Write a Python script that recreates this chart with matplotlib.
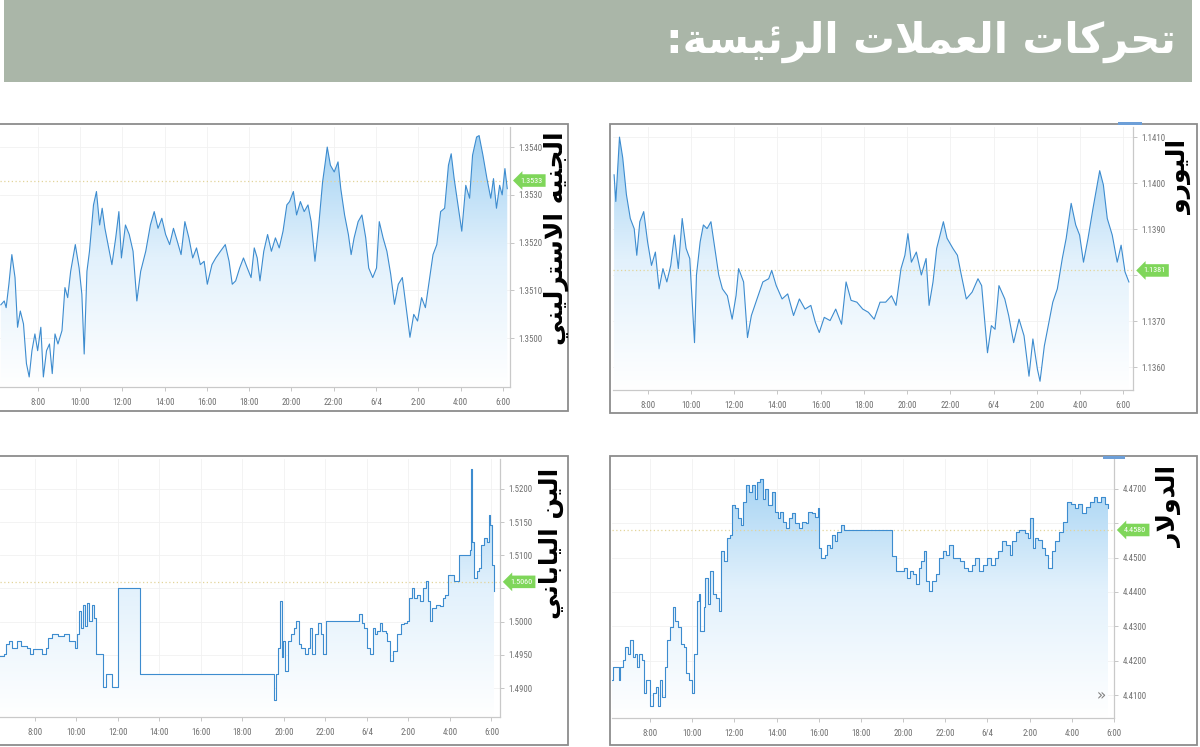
import os
import numpy as np
import matplotlib
matplotlib.use('Agg')
import matplotlib.pyplot as plt
from matplotlib.colors import LinearSegmentedColormap
from matplotlib.patches import Rectangle
from matplotlib import font_manager as fm

# ---------------- data (hours from 0:00 of 3/6, 24 = 6/4) ----------------
title = 'تحركات العملات الرئيسة:'
eur_label = 'اليورو'
gbp_label = 'الجنيه الاسترليني'
usd_label = 'الدولار'
jpy_label = 'الين الياباني'

x_ticks = [8, 10, 12, 14, 16, 18, 20, 22, 24, 26, 28, 30]
x_ticklabels = ['8:00', '10:00', '12:00', '14:00', '16:00', '18:00', '20:00', '22:00',
                '6/4', '2:00', '4:00', '6:00']

eur_hour = [
    6.45, 6.53, 6.70, 6.85, 7.02, 7.20, 7.38, 7.50, 7.64, 7.82,
    8.00, 8.18, 8.36, 8.53, 8.71, 8.89, 9.07, 9.24, 9.42, 9.60,
    9.78, 9.95, 10.17, 10.26, 10.43, 10.58, 10.75, 10.93, 11.11, 11.29,
    11.46, 11.69, 11.91, 12.09, 12.21, 12.44, 12.62, 12.80, 13.06, 13.33,
    13.60, 13.74, 13.95, 14.22, 14.48, 14.75, 15.02, 15.28, 15.55, 15.76,
    15.94, 16.17, 16.44, 16.70, 16.97, 17.18, 17.41, 17.68, 17.95, 18.21,
    18.48, 18.75, 19.01, 19.28, 19.49, 19.72, 19.90, 20.04, 20.20, 20.43,
    20.66, 20.88, 21.02, 21.20, 21.37, 21.68, 21.85, 22.12, 22.33, 22.51,
    22.74, 23.01, 23.28, 23.45, 23.72, 23.90, 24.07, 24.25, 24.52, 24.70,
    24.93, 25.18, 25.41, 25.64, 25.82, 26.03, 26.15, 26.35, 26.56, 26.74,
    26.95, 27.18, 27.36, 27.59, 27.80, 27.98, 28.16, 28.37, 28.60, 28.91,
    29.08, 29.26, 29.49, 29.72, 29.90, 30.08, 30.26]
eur_rate = [
    1.14018, 1.13960, 1.14100, 1.14055, 1.13975, 1.13923, 1.13901, 1.13843, 1.13916, 1.13938,
    1.13872, 1.13821, 1.13850, 1.13770, 1.13814, 1.13785, 1.13821, 1.13887, 1.13814, 1.13923,
    1.13858, 1.13836, 1.13653, 1.13800, 1.13872, 1.13909, 1.13901, 1.13916, 1.13858, 1.13800,
    1.13770, 1.13755, 1.13704, 1.13755, 1.13814, 1.13785, 1.13664, 1.13712, 1.13748, 1.13785,
    1.13792, 1.13810, 1.13777, 1.13748, 1.13759, 1.13712, 1.13748, 1.13726, 1.13734, 1.13697,
    1.13675, 1.13708, 1.13701, 1.13726, 1.13693, 1.13785, 1.13745, 1.13741, 1.13726, 1.13719,
    1.13704, 1.13741, 1.13741, 1.13755, 1.13734, 1.13814, 1.13843, 1.13890, 1.13828, 1.13850,
    1.13800, 1.13836, 1.13734, 1.13785, 1.13858, 1.13916, 1.13880, 1.13858, 1.13843, 1.13800,
    1.13748, 1.13763, 1.13792, 1.13777, 1.13631, 1.13690, 1.13682, 1.13777, 1.13748, 1.13712,
    1.13653, 1.13704, 1.13668, 1.13580, 1.13661, 1.13595, 1.13569, 1.13646, 1.13697, 1.13741,
    1.13770, 1.13836, 1.13880, 1.13956, 1.13909, 1.13887, 1.13828, 1.13880, 1.13945, 1.14027,
    1.13996, 1.13923, 1.13887, 1.13828, 1.13865, 1.13807, 1.13785]
eur_last = 1.1381
eur_yticks = [1.1360, 1.1370, 1.1380, 1.1390, 1.1400, 1.1410]

gbp_hour = [
    6.26, 6.42, 6.51, 6.64, 6.78, 6.93, 7.05, 7.18, 7.33, 7.47,
    7.60, 7.73, 7.87, 8.00, 8.15, 8.27, 8.42, 8.56, 8.69, 8.82,
    8.96, 9.15, 9.29, 9.42, 9.56, 9.78, 9.96, 10.09, 10.20, 10.33,
    10.45, 10.64, 10.78, 10.93, 11.05, 11.18, 11.33, 11.51, 11.69, 11.84,
    11.96, 12.15, 12.33, 12.51, 12.69, 12.87, 13.11, 13.33, 13.51, 13.69,
    13.87, 14.05, 14.24, 14.42, 14.60, 14.78, 14.96, 15.15, 15.33, 15.51,
    15.69, 15.87, 16.02, 16.24, 16.42, 16.64, 16.87, 17.05, 17.20, 17.36,
    17.55, 17.73, 17.91, 18.09, 18.24, 18.38, 18.51, 18.69, 18.87, 19.05,
    19.24, 19.42, 19.60, 19.78, 19.91, 20.09, 20.24, 20.42, 20.60, 20.78,
    20.93, 21.11, 21.29, 21.47, 21.60, 21.69, 21.84, 22.02, 22.20, 22.33,
    22.51, 22.69, 22.82, 22.96, 23.15, 23.33, 23.51, 23.65, 23.84, 24.02,
    24.15, 24.33, 24.51, 24.69, 24.87, 25.05, 25.24, 25.42, 25.60, 25.78,
    25.96, 26.15, 26.33, 26.51, 26.69, 26.87, 27.05, 27.24, 27.42, 27.55,
    27.69, 27.87, 28.05, 28.24, 28.42, 28.56, 28.75, 28.87, 29.05, 29.24,
    29.42, 29.55, 29.69, 29.84, 29.96, 30.09, 30.20]
gbp_rate = [
    1.35070, 1.35078, 1.35064, 1.35113, 1.35175, 1.35127, 1.35023, 1.35057, 1.35030, 1.34947,
    1.34919, 1.34974, 1.35009, 1.34974, 1.35023, 1.34919, 1.34974, 1.34988, 1.34926, 1.35009,
    1.34988, 1.35016, 1.35106, 1.35085, 1.35140, 1.35196, 1.35147, 1.35092, 1.34967, 1.35140,
    1.35182, 1.35279, 1.35307, 1.35237, 1.35272, 1.35230, 1.35196, 1.35154, 1.35210, 1.35265,
    1.35168, 1.35237, 1.35217, 1.35182, 1.35078, 1.35140, 1.35182, 1.35237, 1.35265, 1.35230,
    1.35251, 1.35217, 1.35196, 1.35230, 1.35203, 1.35175, 1.35244, 1.35210, 1.35168, 1.35189,
    1.35154, 1.35161, 1.35113, 1.35154, 1.35168, 1.35182, 1.35196, 1.35161, 1.35113, 1.35120,
    1.35147, 1.35168, 1.35147, 1.35127, 1.35189, 1.35168, 1.35120, 1.35182, 1.35217, 1.35182,
    1.35210, 1.35189, 1.35224, 1.35279, 1.35286, 1.35307, 1.35258, 1.35286, 1.35265, 1.35279,
    1.35244, 1.35161, 1.35237, 1.35327, 1.35369, 1.35400, 1.35362, 1.35348, 1.35369, 1.35313,
    1.35258, 1.35217, 1.35175, 1.35210, 1.35244, 1.35258, 1.35210, 1.35147, 1.35127, 1.35147,
    1.35244, 1.35210, 1.35182, 1.35134, 1.35071, 1.35113, 1.35127, 1.35064, 1.35002, 1.35050,
    1.35036, 1.35085, 1.35064, 1.35120, 1.35175, 1.35196, 1.35265, 1.35272, 1.35362, 1.35386,
    1.35334, 1.35279, 1.35224, 1.35320, 1.35293, 1.35383, 1.35421, 1.35424, 1.35383, 1.35334,
    1.35293, 1.35334, 1.35272, 1.35320, 1.35300, 1.35355, 1.35313]
gbp_last = 1.3533
gbp_yticks = [1.3500, 1.3510, 1.3520, 1.3530, 1.3540]

usd_hour = [
    6.19, 6.23, 6.47, 6.52, 6.59, 6.70, 6.83, 6.95, 7.06, 7.19,
    7.28, 7.37, 7.46, 7.60, 7.73, 7.82, 8.00, 8.14, 8.27, 8.36,
    8.45, 8.58, 8.69, 8.81, 8.94, 9.08, 9.17, 9.30, 9.44, 9.59,
    9.71, 9.84, 9.99, 10.09, 10.20, 10.31, 10.38, 10.53, 10.62, 10.74,
    10.85, 10.98, 11.10, 11.25, 11.36, 11.52, 11.65, 11.79, 11.88, 12.01,
    12.15, 12.30, 12.42, 12.55, 12.69, 12.84, 12.96, 13.09, 13.23, 13.34,
    13.45, 13.60, 13.78, 13.92, 14.05, 14.17, 14.32, 14.46, 14.59, 14.71,
    14.86, 15.04, 15.22, 15.40, 15.51, 15.67, 15.80, 15.94, 16.03, 16.12,
    16.27, 16.39, 16.52, 16.63, 16.75, 16.88, 17.03, 17.21, 19.37, 19.46,
    19.64, 19.91, 20.06, 20.18, 20.31, 20.45, 20.60, 20.73, 20.85, 21.00,
    21.10, 21.21, 21.36, 21.54, 21.72, 21.90, 22.04, 22.19, 22.35, 22.53,
    22.71, 22.89, 23.07, 23.25, 23.43, 23.61, 23.79, 23.97, 24.16, 24.34,
    24.52, 24.70, 24.88, 25.06, 25.18, 25.33, 25.51, 25.78, 25.91, 26.01,
    26.14, 26.27, 26.41, 26.59, 26.74, 26.86, 27.04, 27.22, 27.40, 27.58,
    27.77, 27.95, 28.13, 28.31, 28.49, 28.67, 28.85, 29.03, 29.21, 29.39,
    29.57, 29.71]
usd_rate = [
    4.41439, 4.41823, 4.41823, 4.41439, 4.41823, 4.42014, 4.42398, 4.42206, 4.42590, 4.42110,
    4.42206, 4.41823, 4.42206, 4.42014, 4.41055, 4.41439, 4.40672, 4.41055, 4.41247, 4.40672,
    4.41439, 4.40960, 4.41823, 4.42590, 4.42973, 4.43548, 4.43165, 4.42973, 4.42494, 4.42398,
    4.41631, 4.41439, 4.41055, 4.42206, 4.43740, 4.43932, 4.42877, 4.43548, 4.44411, 4.43644,
    4.44603, 4.43932, 4.43836, 4.43453, 4.45178, 4.44891, 4.45562, 4.45658, 4.46521, 4.46425,
    4.46137, 4.45945, 4.46616, 4.47096, 4.46904, 4.47096, 4.46712, 4.47192, 4.47288, 4.46712,
    4.47000, 4.46521, 4.46904, 4.46329, 4.46137, 4.46329, 4.46041, 4.45850, 4.46137, 4.46281,
    4.45993, 4.45850, 4.46041, 4.45993, 4.46329, 4.46281, 4.46185, 4.46425, 4.45274, 4.44987,
    4.45083, 4.45370, 4.45274, 4.45658, 4.45466, 4.45754, 4.45945, 4.45802, 4.45802, 4.45035,
    4.44603, 4.44603, 4.44699, 4.44411, 4.44603, 4.44507, 4.44220, 4.44699, 4.44891, 4.45178,
    4.44315, 4.44028, 4.44315, 4.44507, 4.44987, 4.45178, 4.45083, 4.45370, 4.44987, 4.44987,
    4.44891, 4.44699, 4.44603, 4.44795, 4.44987, 4.44603, 4.44795, 4.44987, 4.44795, 4.44987,
    4.45178, 4.45466, 4.45370, 4.45083, 4.45466, 4.45754, 4.45802, 4.45706, 4.45562, 4.46137,
    4.45274, 4.45562, 4.45514, 4.45274, 4.45083, 4.44699, 4.45178, 4.45466, 4.45754, 4.46041,
    4.46616, 4.46569, 4.46425, 4.46569, 4.46281, 4.46473, 4.46616, 4.46760, 4.46616, 4.46760,
    4.46569, 4.46425]
usd_last = 4.4580
usd_yticks = [4.4100, 4.4200, 4.4300, 4.4400, 4.4500, 4.4600, 4.4700]

jpy_hour = [
    6.33, 6.51, 6.61, 6.74, 6.89, 7.16, 7.35, 7.63, 7.78, 7.91,
    8.19, 8.37, 8.56, 8.65, 8.84, 9.11, 9.39, 9.67, 9.95, 10.04,
    10.14, 10.23, 10.32, 10.41, 10.53, 10.64, 10.75, 10.86, 10.93, 11.19,
    11.31, 11.44, 11.71, 11.75, 11.99, 13.07, 19.42, 19.51, 19.61, 19.70,
    19.81, 19.89, 19.98, 20.07, 20.22, 20.35, 20.48, 20.59, 20.72, 20.85,
    21.00, 21.15, 21.24, 21.37, 21.52, 21.65, 21.78, 21.89, 22.02, 23.56,
    23.64, 23.75, 23.88, 24.01, 24.16, 24.27, 24.38, 24.49, 24.62, 24.75,
    24.90, 24.99, 25.12, 25.27, 25.46, 25.64, 25.79, 25.92, 26.05, 26.16,
    26.29, 26.42, 26.57, 26.72, 26.83, 26.94, 27.03, 27.12, 27.31, 27.50,
    27.65, 27.78, 27.91, 28.09, 28.20, 28.33, 28.43, 28.95, 29.02, 29.08,
    29.17, 29.28, 29.39, 29.50, 29.63, 29.76, 29.86, 29.95, 30.04, 30.14]
jpy_rate = [
    1.49488, 1.49512, 1.49662, 1.49711, 1.49612, 1.49711, 1.49637, 1.49612, 1.49512, 1.49587,
    1.49587, 1.49512, 1.49612, 1.49761, 1.49811, 1.49786, 1.49811, 1.49711, 1.49612, 1.49811,
    1.50159, 1.49910, 1.50259, 1.49935, 1.50284, 1.50010, 1.50259, 1.50060, 1.49512, 1.49512,
    1.49015, 1.49214, 1.49015, 1.49015, 1.50507, 1.49214, 1.49214, 1.48816, 1.49214, 1.49612,
    1.50308, 1.49463, 1.49711, 1.49264, 1.49711, 1.49811, 1.49910, 1.50010, 1.49662, 1.49612,
    1.49512, 1.49612, 1.49910, 1.49512, 1.49811, 1.49985, 1.49811, 1.49512, 1.50010, 1.50010,
    1.50110, 1.49985, 1.49910, 1.49612, 1.49512, 1.49910, 1.49811, 1.49861, 1.49985, 1.49861,
    1.49836, 1.49711, 1.49413, 1.49562, 1.49811, 1.49960, 1.49985, 1.50010, 1.50358, 1.50507,
    1.50358, 1.50408, 1.50308, 1.50507, 1.50607, 1.50308, 1.50010, 1.50209, 1.50259, 1.50234,
    1.50358, 1.50408, 1.50706, 1.50706, 1.50607, 1.50607, 1.51005, 1.51080, 1.52299, 1.51204,
    1.50657, 1.50756, 1.50806, 1.51154, 1.51254, 1.51204, 1.51602, 1.51453, 1.50856, 1.50458]
jpy_last = 1.5060
jpy_yticks = [1.4900, 1.4950, 1.5000, 1.5050, 1.5100, 1.5150, 1.5200]

# ---------------- small arabic shaper (matplotlib does no shaping) ----------------
AR = {
    'ا': ('\ufe8d', '\ufe8e'),
    'ب': ('\ufe8f', '\ufe90', '\ufe91', '\ufe92'),
    'ة': ('\ufe93', '\ufe94'),
    'ت': ('\ufe95', '\ufe96', '\ufe97', '\ufe98'),
    'ج': ('\ufe9d', '\ufe9e', '\ufe9f', '\ufea0'),
    'ح': ('\ufea1', '\ufea2', '\ufea3', '\ufea4'),
    'د': ('\ufea9', '\ufeaa'),
    'ر': ('\ufead', '\ufeae'),
    'س': ('\ufeb1', '\ufeb2', '\ufeb3', '\ufeb4'),
    'ع': ('\ufec9', '\ufeca', '\ufecb', '\ufecc'),
    'ك': ('\ufed9', '\ufeda', '\ufedb', '\ufedc'),
    'ل': ('\ufedd', '\ufede', '\ufedf', '\ufee0'),
    'م': ('\ufee1', '\ufee2', '\ufee3', '\ufee4'),
    'ن': ('\ufee5', '\ufee6', '\ufee7', '\ufee8'),
    'ه': ('\ufee9', '\ufeea', '\ufeeb', '\ufeec'),
    'و': ('\ufeed', '\ufeee'),
    'ي': ('\ufef1', '\ufef2', '\ufef3', '\ufef4'),
    'ئ': ('\ufe89', '\ufe8a', '\ufe8b', '\ufe8c'),
}


def shape(s):
    out = []
    i = 0
    while i < len(s):
        c = s[i]
        f = AR.get(c)
        if f is None:
            out.append(c)
            i += 1
            continue
        p = s[i - 1] if i > 0 else ''
        joined = p in AR and len(AR[p]) == 4
        if c == 'ل' and i + 1 < len(s) and s[i + 1] == 'ا':
            out.append('\ufefc' if joined else '\ufefb')
            i += 2
            continue
        n = s[i + 1] if i + 1 < len(s) else ''
        fwd = len(f) == 4 and n in AR
        if joined and fwd:
            g = f[3]
        elif joined:
            g = f[1]
        elif fwd:
            g = f[2]
        else:
            g = f[0]
        out.append(g)
        i += 1
    return ''.join(reversed(out))


# narrow font for the small tick labels, if one is installed
def narrow_font():
    prefs = ['LiberationSansNarrow-Regular', 'RobotoCondensed-Regular', 'DejaVuSansCondensed.',
             'NotoSans-Condensed.', 'OpenSans-CondensedRegular', 'OpenSans_Condensed-Regular']
    files = [f.fname for f in fm.fontManager.ttflist]
    for p in prefs:
        for fn in files:
            if p in os.path.basename(fn):
                return fn
    return None


narrow = narrow_font()


def tick_fp(size):
    if narrow:
        return fm.FontProperties(fname=narrow, size=size)
    return fm.FontProperties(family='Liberation Sans', size=size)


# ---------------- figure ----------------
W, H = 1200, 747
fig = plt.figure(figsize=(12, 7.47), dpi=100)
fig.patch.set_facecolor('white')


def fx(x):
    return x / W


def fy(y):
    return 1 - y / H


# header band
fig.add_artist(Rectangle((fx(4), fy(82)), (1192 - 4) / W, 82 / H, transform=fig.transFigure,
                         fc='#aab6a8', ec='none'))
fig.text(fx(1176), fy(42), shape(title), ha='right', va='center', color='white',
         fontsize=30, fontweight='bold', family='DejaVu Sans')

fade = LinearSegmentedColormap.from_list('fade', ['#ffffff', '#e2f1fc', '#9dcff2'])
grad = np.linspace(0, 1, 256).reshape(-1, 1)


def panel(frame, box, hours, rates, xlim, ylim, yticks, last, label, label_xy, step=False,
          blue_bar=None):
    # outer frame of the screenshot
    fl, ft, fr, fb = frame
    fig.add_artist(Rectangle((fx(fl), fy(fb)), (fr - fl) / W, (fb - ft) / H,
                             transform=fig.transFigure, fill=False, ec='#8c8c8c', lw=1.3))
    l, t, r, b = box
    ax = fig.add_axes([fx(l), fy(b), (r - l) / W, (b - t) / H])
    ax.set_facecolor('white')

    ds = 'steps-post' if step else 'default'
    poly = ax.fill_between(hours, rates, ylim[0], step='post' if step else None,
                           facecolor='none', edgecolor='none')
    im = ax.imshow(grad, extent=[xlim[0], xlim[1], ylim[0], ylim[1]], origin='lower',
                   aspect='auto', cmap=fade, zorder=1)
    im.set_clip_path(poly.get_paths()[0], transform=ax.transData)
    ax.plot(hours, rates, color='#3d8ccf', lw=0.8, drawstyle=ds, zorder=3)
    ax.axhline(last, color='#e2d49a', lw=0.9, ls=(0, (1, 2)), zorder=2)

    ax.set_xlim(*xlim)
    ax.set_ylim(*ylim)
    ax.set_xticks(x_ticks)
    ax.set_xticklabels(x_ticklabels)
    ax.set_yticks(yticks)
    # labels sitting right under the price tag are hidden by it in the screenshot
    span = ylim[1] - ylim[0]
    ax.set_yticklabels(['' if abs(v - last) / span < 0.035 else '%.4f' % v for v in yticks])
    ax.yaxis.tick_right()
    for s in ['top', 'left']:
        ax.spines[s].set_visible(False)
    for s in ['bottom', 'right']:
        ax.spines[s].set_color('#c9c9c9')
        ax.spines[s].set_linewidth(0.9)
    ax.tick_params(axis='both', colors='#bdbdbd', labelcolor='#6f6f6f',
                   length=3, width=0.6)
    ax.tick_params(axis='x', pad=5)
    ax.tick_params(axis='y', pad=3)
    for lbl in ax.get_xticklabels() + ax.get_yticklabels():
        lbl.set_fontproperties(tick_fp(6.3))
    ax.grid(True, color='#f1f1f1', lw=0.6)
    ax.set_axisbelow(True)

    # current price tag
    ax.text(1.02, last, '%.4f' % last, transform=ax.get_yaxis_transform(), ha='left',
            va='center', color='white', fontproperties=tick_fp(5.9), zorder=6, clip_on=False,
            bbox=dict(boxstyle='larrow,pad=0.4', fc='#7fd65a', ec='none'))

    if blue_bar is not None:
        bx0, bx1, by = blue_bar
        fig.add_artist(Rectangle((fx(bx0), fy(by + 3)), (bx1 - bx0) / W, 3 / H,
                                 transform=fig.transFigure, fc='#6d9fd8', ec='none'))

    fig.text(fx(label_xy[0]), fy(label_xy[1]), shape(label), rotation=90, ha='center',
             va='top', fontsize=18, fontweight='bold', color='black', family='DejaVu Sans')
    return ax


# euro, top right
panel((610, 124, 1197, 413), (613, 127, 1133, 390), eur_hour, eur_rate,
      (6.40, 30.45), (1.13550, 1.14122), eur_yticks, eur_last, eur_label, (1179, 140),
      blue_bar=(1118, 1142, 122))

# pound, top left
panel((-2, 124, 568, 411), (0, 127, 510, 387), gbp_hour, gbp_rate,
      (6.22, 30.33), (1.34898, 1.35442), gbp_yticks, gbp_last, gbp_label, (556, 131))

# dollar, bottom right
ax_usd = panel((610, 456, 1197, 745), (612, 459, 1114, 718), usd_hour, usd_rate,
               (6.19, 29.75), (4.40336, 4.47863), usd_yticks, usd_last, usd_label, (1169, 466),
               step=True, blue_bar=(1103, 1125, 456))
ax_usd.text(0.975, 0.085, '»', transform=ax_usd.transAxes, ha='center', va='center',
            fontsize=11, color='#808080')

# yen, bottom left
panel((-2, 456, 568, 745), (0, 459, 500, 717), jpy_hour, jpy_rate,
      (6.33, 30.41), (1.48567, 1.52448), jpy_yticks, jpy_last, jpy_label, (551, 468),
      step=True)

fig.savefig('out.png', dpi=100, facecolor='white')
